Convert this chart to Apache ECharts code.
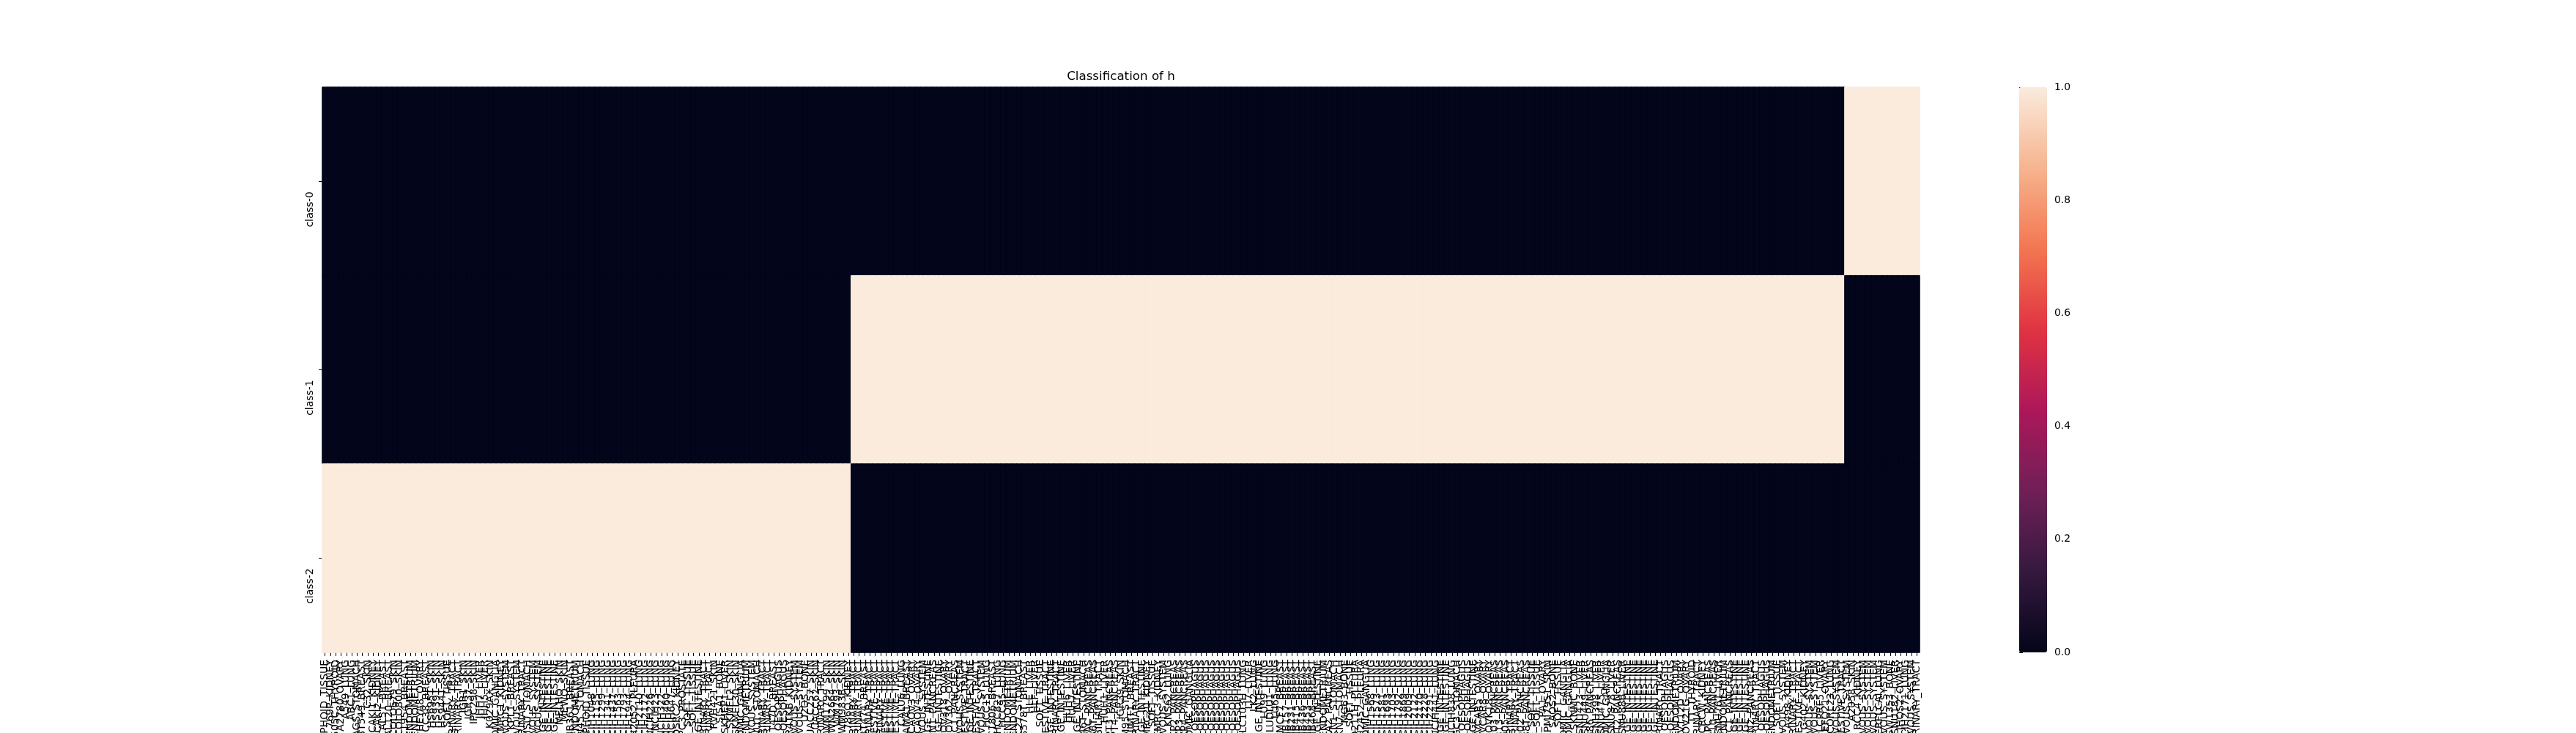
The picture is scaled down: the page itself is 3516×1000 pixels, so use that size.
<!DOCTYPE html>
<html>
<head>
<meta charset="utf-8">
<script src="https://cdn.jsdelivr.net/npm/echarts@6/dist/echarts.min.js"></script>
<style>
html,body{margin:0;padding:0;background:#fff;}
#chart{width:3516px;height:1000px;}
</style>
</head>
<body>
<div id="chart"></div>
<script>
// ---- data ----
const rowLabels = ['class-0', 'class-1', 'class-2'];

const cellLines = [
"697_HAEMATOPOIETIC_AND_LYMPHOID_TISSUE","769P_KIDNEY","8505C_THYROID","A2780_OVARY","A549_LUNG","ABC1_LUNG","AGS_STOMACH","BT549_BREAST","C32_SKIN","CAKI1_KIDNEY",
"CAKI2_KIDNEY","CAL51_BREAST","CAL120_BREAST","COLO679_SKIN","COLO800_SKIN","HCC1954_BREAST","EFE184_ENDOMETRIUM","ESS1_ENDOMETRIUM","HEYA8_OVARY","HCC38_BREAST",
"HS695T_SKIN","HS939T_SKIN","HS944T_SKIN","HT1080_SOFT_TISSUE","HT1197_URINARY_TRACT","HT1376_URINARY_TRACT","IGR1_SKIN","IGR37_SKIN","IPC298_SKIN","JHH7_LIVER",
"JHH5_LIVER","K029AX_SKIN","KELLY_AUTONOMIC_GANGLIA","KMRC1_KIDNEY","KNS42_CENTRAL_NERVOUS_SYSTEM","KPL1_BREAST","KS1_CENTRAL_NERVOUS_SYSTEM","KU1919_URINARY_TRACT","LMSU_STOMACH","LN18_CENTRAL_NERVOUS_SYSTEM",
"LN229_CENTRAL_NERVOUS_SYSTEM","LOVO_LARGE_INTESTINE","LS180_LARGE_INTESTINE","LS513_LARGE_INTESTINE","MELHO_SKIN","MEWO_SKIN","MDAMB361_BREAST","MFE280_ENDOMETRIUM","MKN45_STOMACH","MOLT4_HAEMATOPOIETIC_AND_LYMPHOID_TISSUE",
"NCIH1048_LUNG","NCIH1155_LUNG","NCIH1299_LUNG","NCIH1341_LUNG","NCIH1437_LUNG","NCIH1563_LUNG","NCIH1793_LUNG","NCIH1944_LUNG","NCIH2052_PLEURA","NCIH2110_LUNG",
"NCIH2172_LUNG","NCIH226_LUNG","NCIH23_LUNG","NCIH322_LUNG","NCIH460_LUNG","NCIH647_LUNG","OSRC2_KIDNEY","PC3_PROSTATE","RD_SOFT_TISSUE","RH30_SOFT_TISSUE",
"RKO_LARGE_INTESTINE","RT112_URINARY_TRACT","RT4_URINARY_TRACT","RVH421_SKIN","SJSA1_BONE","SKHEP1_LIVER","SKMEL2_SKIN","SKMEL30_SKIN","SKNAS_AUTONOMIC_GANGLIA","SNGM_ENDOMETRIUM",
"SNU201_CENTRAL_NERVOUS_SYSTEM","SNU1_STOMACH","SW1710_URINARY_TRACT","SW780_URINARY_TRACT","T47D_BREAST","TE1_OESOPHAGUS","TE6_OESOPHAGUS","TUHR4TKB_KIDNEY","U118MG_CENTRAL_NERVOUS_SYSTEM","U251MG_CENTRAL_NERVOUS_SYSTEM",
"U2OS_BONE","UACC257_SKIN","UACC62_SKIN","UMUC3_URINARY_TRACT","WM1799_SKIN","WM2664_SKIN","WM793_SKIN","WM983B_SKIN","786O_KIDNEY","5637_URINARY_TRACT",
"639V_URINARY_TRACT","BT474_BREAST","647V_URINARY_TRACT","BICR22_UPPER_AERODIGESTIVE_TRACT","BFTC905_URINARY_TRACT","BICR6_UPPER_AERODIGESTIVE_TRACT","BICR56_UPPER_AERODIGESTIVE_TRACT","CAL27_UPPER_AERODIGESTIVE_TRACT","CALU6_LUNG","CAMA1_BREAST",
"CAOV3_OVARY","CAOV4_OVARY","CCFSTTG1_CENTRAL_NERVOUS_SYSTEM","COLO205_LARGE_INTESTINE","CAPAN1_PANCREAS","COLO678_LARGE_INTESTINE","COV318_OVARY","COV362_OVARY","CFPAC1_PANCREAS","DAOY_CENTRAL_NERVOUS_SYSTEM",
"DETROIT562_UPPER_AERODIGESTIVE_TRACT","DLD1_LARGE_INTESTINE","FADU_UPPER_AERODIGESTIVE_TRACT","GAMG_CENTRAL_NERVOUS_SYSTEM","HCC15_LUNG","HCC1806_BREAST","HCC827_LUNG","HCC95_LUNG","HEC1A_ENDOMETRIUM","HEC59_ENDOMETRIUM",
"HGC27_STOMACH","HS578T_BREAST","HLE_LIVER","HLF_LIVER","HS729_SOFT_TISSUE","HSC2_UPPER_AERODIGESTIVE_TRACT","HT29_LARGE_INTESTINE","HS172T_URINARY_TRACT","HT55_LARGE_INTESTINE","HUH6_LIVER",
"HUH7_LIVER","HCT116_LARGE_INTESTINE","HS746T_STOMACH","HPAC_PANCREAS","HS766T_PANCREAS","HUCCT1_BILIARY_TRACT","HUH1_LIVER","HUPT3_PANCREAS","HUPT4_PANCREAS","IGR39_SKIN",
"IM95_STOMACH","JIMT1_BREAST","KMBC2_URINARY_TRACT","KM12_LARGE_INTESTINE","KMRC20_KIDNEY","KYM1_SOFT_TISSUE","KMRC3_KIDNEY","KNS81_CENTRAL_NERVOUS_SYSTEM","KNS62_LUNG","KP2_PANCREAS",
"KP3_PANCREAS","KP4_PANCREAS","KPNYN_AUTONOMIC_GANGLIA","KYSE140_OESOPHAGUS","KYSE150_OESOPHAGUS","KYSE180_OESOPHAGUS","KYSE30_OESOPHAGUS","KYSE410_OESOPHAGUS","KYSE450_OESOPHAGUS","KYSE510_OESOPHAGUS",
"KYSE520_OESOPHAGUS","KYSE70_OESOPHAGUS","LCLC103H_LUNG","LI7_LIVER","LK2_LUNG","LS1034_LARGE_INTESTINE","LU99_LUNG","LUDLU1_LUNG","LU65_LUNG","MCF7_BREAST",
"MDAMB157_BREAST","MDAMB231_BREAST","MDAMB415_BREAST","MDAMB436_BREAST","MDAMB453_BREAST","MDAMB468_BREAST","MDST8_LARGE_INTESTINE","MFE296_ENDOMETRIUM","MIAPACA2_PANCREAS","MKN1_STOMACH",
"MKN7_STOMACH","MG63_BONE","MESSA_SOFT_TISSUE","MSTO211H_PLEURA","NCIH2452_PLEURA","NB1_AUTONOMIC_GANGLIA","NCIH1568_LUNG","NCIH1573_LUNG","NCIH1581_LUNG","NCIH1693_LUNG",
"NCIH1703_LUNG","NCIH1792_LUNG","NCIH1869_LUNG","NCIH2009_LUNG","NCIH2122_LUNG","NCIH2170_LUNG","NCIH2228_LUNG","NCIH2291_LUNG","NCIH441_LUNG","NCIH508_LARGE_INTESTINE",
"NCIH716_LARGE_INTESTINE","NCIH838_LUNG","NUGC3_STOMACH","OE19_OESOPHAGUS","OE33_OESOPHAGUS","OUMS23_LARGE_INTESTINE","OVCAR5_OVARY","OVCAR8_OVARY","OVK18_OVARY","PANC0203_PANCREAS",
"PANC0813_PANCREAS","PANC1005_PANCREAS","SCABER_URINARY_TRACT","TCCSUP_URINARY_TRACT","PATU8902_PANCREAS","PATU8988T_PANCREAS","A204_SOFT_TISSUE","SJRH30_SOFT_TISSUE","PA1_OVARY","RPMI7951_SKIN",
"SAOS2_BONE","SW982_SOFT_TISSUE","SHSY5Y_AUTONOMIC_GANGLIA","SKNSH_AUTONOMIC_GANGLIA","SKNMC_BONE","SNU423_LIVER","SNU449_LIVER","SU8686_PANCREAS","SNU398_LIVER","SNU475_LIVER",
"SKNFI_AUTONOMIC_GANGLIA","SNU878_LIVER","SUIT2_PANCREAS","SNU886_LIVER","SW1463_LARGE_INTESTINE","SW403_LARGE_INTESTINE","SW48_LARGE_INTESTINE","SW480_LARGE_INTESTINE","SW620_LARGE_INTESTINE","SW837_LARGE_INTESTINE",
"T24_URINARY_TRACT","TE10_OESOPHAGUS","TE11_OESOPHAGUS","TEN_ENDOMETRIUM","TOV112D_OVARY","TOV21G_OVARY","TT_THYROID","UMUC1_URINARY_TRACT","VMRCRCW_KIDNEY","YAPC_PANCREAS",
"SNU410_PANCREAS","SNU761_LIVER","AN3CA_ENDOMETRIUM","ASPC1_PANCREAS","CL11_LARGE_INTESTINE","CL34_LARGE_INTESTINE","CL40_LARGE_INTESTINE","CAPAN2_PANCREAS","J82_URINARY_TRACT","KYSE270_OESOPHAGUS",
"TE8_OESOPHAGUS","HEC251_ENDOMETRIUM","HS819T_SOFT_TISSUE","LN215_CENTRAL_NERVOUS_SYSTEM","A498_KIDNEY","VMCUB1_URINARY_TRACT","A253_UPPER_AERODIGESTIVE_TRACT","G402_KIDNEY","SF295_CENTRAL_NERVOUS_SYSTEM","SF539_CENTRAL_NERVOUS_SYSTEM",
"PLCPRF5_LIVER","EFO21_OVARY","CORL23_LUNG","H4_CENTRAL_NERVOUS_SYSTEM","SCC25_UPPER_AERODIGESTIVE_TRACT","U87MG_CENTRAL_NERVOUS_SYSTEM","A2058_SKIN","RCC4_KIDNEY","T98G_CENTRAL_NERVOUS_SYSTEM","DBTRG05MG_CENTRAL_NERVOUS_SYSTEM",
"M059K_CENTRAL_NERVOUS_SYSTEM","RERFLCAI_LUNG","TM31_CENTRAL_NERVOUS_SYSTEM","SW1353_BONE","SNU182_LIVER","JHOS2_OVARY","NCIH2171_LUNG","SNB75_CENTRAL_NERVOUS_SYSTEM","VMCUB3_URINARY_TRACT"
];

const class0Values = [
0,0,0,0,0,0,0,0,0,0, 0,0,0,0,0,0,0,0,0,0, 0,0,0,0,0,0,0,0,0,0, 0,0,0,0,0,0,0,0,0,0, 0,0,0,0,0,0,0,0,0,0,
0,0,0,0,0,0,0,0,0,0, 0,0,0,0,0,0,0,0,0,0, 0,0,0,0,0,0,0,0,0,0, 0,0,0,0,0,0,0,0,0,0, 0,0,0,0,0,0,0,0,0,0,
0,0,0,0,0,0,0,0,0,0, 0,0,0,0,0,0,0,0,0,0, 0,0,0,0,0,0,0,0,0,0, 0,0,0,0,0,0,0,0,0,0, 0,0,0,0,0,0,0,0,0,0,
0,0,0,0,0,0,0,0,0,0, 0,0,0,0,0,0,0,0,0,0, 0,0,0,0,0,0,0,0,0,0, 0,0,0,0,0,0,0,0,0,0, 0,0,0,0,0,0,0,0,0,0,
0,0,0,0,0,0,0,0,0,0, 0,0,0,0,0,0,0,0,0,0, 0,0,0,0,0,0,0,0,0,0, 0,0,0,0,0,0,0,0,0,0, 0,0,0,0,0,0,0,0,0,0,
0,0,0,0,0,0,0,0,0,0, 0,0,0,0,0,0,0,0,0,0, 0,0,0,0,0,0,0,0,0,0, 0,0,0,0,0,1,1,1,1,1, 1,1,1,1,1,1,1,1,1
];
const class1Values = [
0,0,0,0,0,0,0,0,0,0, 0,0,0,0,0,0,0,0,0,0, 0,0,0,0,0,0,0,0,0,0, 0,0,0,0,0,0,0,0,0,0, 0,0,0,0,0,0,0,0,0,0,
0,0,0,0,0,0,0,0,0,0, 0,0,0,0,0,0,0,0,0,0, 0,0,0,0,0,0,0,0,0,0, 0,0,0,0,0,0,0,0,0,0, 0,0,0,0,0,0,0,0,0,1,
1,1,1,1,1,1,1,1,1,1, 1,1,1,1,1,1,1,1,1,1, 1,1,1,1,1,1,1,1,1,1, 1,1,1,1,1,1,1,1,1,1, 1,1,1,1,1,1,1,1,1,1,
1,1,1,1,1,1,1,1,1,1, 1,1,1,1,1,1,1,1,1,1, 1,1,1,1,1,1,1,1,1,1, 1,1,1,1,1,1,1,1,1,1, 1,1,1,1,1,1,1,1,1,1,
1,1,1,1,1,1,1,1,1,1, 1,1,1,1,1,1,1,1,1,1, 1,1,1,1,1,1,1,1,1,1, 1,1,1,1,1,1,1,1,1,1, 1,1,1,1,1,1,1,1,1,1,
1,1,1,1,1,1,1,1,1,1, 1,1,1,1,1,1,1,1,1,1, 1,1,1,1,1,1,1,1,1,1, 1,1,1,1,1,0,0,0,0,0, 0,0,0,0,0,0,0,0,0
];
const class2Values = [
1,1,1,1,1,1,1,1,1,1, 1,1,1,1,1,1,1,1,1,1, 1,1,1,1,1,1,1,1,1,1, 1,1,1,1,1,1,1,1,1,1, 1,1,1,1,1,1,1,1,1,1,
1,1,1,1,1,1,1,1,1,1, 1,1,1,1,1,1,1,1,1,1, 1,1,1,1,1,1,1,1,1,1, 1,1,1,1,1,1,1,1,1,1, 1,1,1,1,1,1,1,1,1,0,
0,0,0,0,0,0,0,0,0,0, 0,0,0,0,0,0,0,0,0,0, 0,0,0,0,0,0,0,0,0,0, 0,0,0,0,0,0,0,0,0,0, 0,0,0,0,0,0,0,0,0,0,
0,0,0,0,0,0,0,0,0,0, 0,0,0,0,0,0,0,0,0,0, 0,0,0,0,0,0,0,0,0,0, 0,0,0,0,0,0,0,0,0,0, 0,0,0,0,0,0,0,0,0,0,
0,0,0,0,0,0,0,0,0,0, 0,0,0,0,0,0,0,0,0,0, 0,0,0,0,0,0,0,0,0,0, 0,0,0,0,0,0,0,0,0,0, 0,0,0,0,0,0,0,0,0,0,
0,0,0,0,0,0,0,0,0,0, 0,0,0,0,0,0,0,0,0,0, 0,0,0,0,0,0,0,0,0,0, 0,0,0,0,0,0,0,0,0,0, 0,0,0,0,0,0,0,0,0
];
const colorbarTicks = [0, 0.2, 0.4, 0.6, 0.8, 1.0];
const rocketColors = ['#03051A', '#35193E', '#701F57', '#AD1759', '#E13342', '#F37651', '#F6B48F', '#FAEBDD'];

// ---- build ----
const rows = [class0Values, class1Values, class2Values];
const heatData = [];
rows.forEach((vals, r) => vals.forEach((v, i) => heatData.push({
  value: [i, r, v],
  itemStyle: {borderWidth: 1, borderColor: v ? rocketColors[rocketColors.length - 1] : rocketColors[0]}
})));

const FONT = 'DejaVu Sans';
const chart = echarts.init(document.getElementById('chart'), null, {renderer: 'canvas'});
chart.setOption({
  backgroundColor: '#ffffff',
  animation: false,
  title: {
    text: 'Classification of h',
    left: 1530, top: 96, textAlign: 'center', padding: 0,
    textStyle: {fontFamily: FONT, fontSize: 16.7, fontWeight: 'normal', color: '#000'}
  },
  grid: [
    {left: 440, top: 119, width: 2180, height: 771, containLabel: false, outerBoundsMode: 'none'},
    {left: 2756, top: 119, width: 38, height: 771, containLabel: false, outerBoundsMode: 'none'}
  ],
  xAxis: [
    {
      type: 'category', data: cellLines, gridIndex: 0,
      axisLine: {show: false},
      axisTick: {show: true, alignWithLabel: true, length: 5, lineStyle: {color: '#000', width: 1}},
      axisLabel: {interval: 0, rotate: 90, margin: 10, fontFamily: FONT, fontSize: 13.9, color: '#000'},
      splitLine: {show: false}
    },
    {type: 'value', gridIndex: 1, show: false, min: 0, max: 1}
  ],
  yAxis: [
    {
      type: 'category', data: rowLabels, inverse: true, gridIndex: 0,
      axisLine: {show: false},
      axisTick: {show: true, alignWithLabel: true, length: 5, lineStyle: {color: '#000', width: 1}},
      axisLabel: {rotate: 90, margin: 10, align: 'right', verticalAlign: 'bottom', padding: [0, 14, 0, 0],
        fontFamily: FONT, fontSize: 13.9, color: '#000'},
      splitLine: {show: false}
    },
    {
      type: 'value', gridIndex: 1, position: 'right', min: 0, max: 1, interval: 0.2,
      axisLine: {show: false},
      axisTick: {show: true, length: 5, lineStyle: {color: '#000', width: 1}},
      axisLabel: {margin: 10, fontFamily: FONT, fontSize: 13.9, color: '#000',
        formatter: v => (colorbarTicks.some(t => Math.abs(t - v) < 1e-9) ? v.toFixed(1) : '')},
      splitLine: {show: false}
    }
  ],
  visualMap: {
    type: 'continuous', min: 0, max: 1, seriesIndex: 0,
    calculable: false, hoverLink: false, realtime: false,
    orient: 'vertical', left: 2756, top: 119,
    itemWidth: 38, itemHeight: 771, padding: 0,
    text: null, showLabel: false,
    inRange: {color: rocketColors}
  },
  series: [
    {
      type: 'heatmap', xAxisIndex: 0, yAxisIndex: 0, data: heatData,
      emphasis: {disabled: true},
      progressive: 0
    },
    {type: 'line', xAxisIndex: 1, yAxisIndex: 1, data: [], silent: true}
  ]
});
</script>
</body>
</html>
